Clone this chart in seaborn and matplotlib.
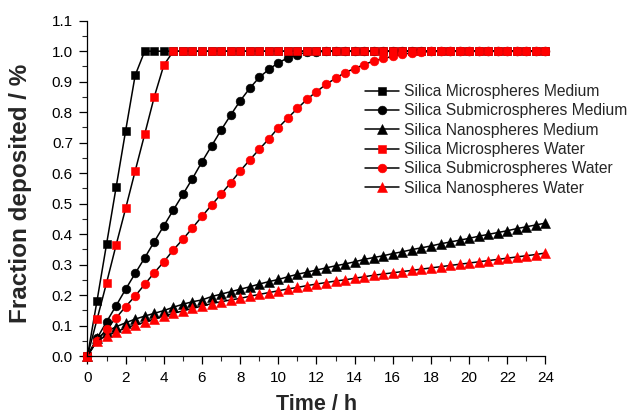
import matplotlib
matplotlib.use("Agg")
import matplotlib.pyplot as plt
import seaborn as sns
from matplotlib.ticker import MultipleLocator, FormatStrFormatter

sns.set_style("ticks")
plt.rcParams['font.family'] = ['Liberation Sans', 'DejaVu Sans']

time_h = [0, 0.5, 1, 1.5, 2, 2.5, 3, 3.5, 4, 4.5, 5, 5.5, 6, 6.5, 7, 7.5, 8, 8.5, 9, 9.5,
          10, 10.5, 11, 11.5, 12, 12.5, 13, 13.5, 14, 14.5, 15, 15.5, 16, 16.5, 17, 17.5,
          18, 18.5, 19, 19.5, 20, 20.5, 21, 21.5, 22, 22.5, 23, 23.5, 24]

micro_medium = [0, 0.181, 0.367, 0.553, 0.739, 0.921, 1.0, 1.0, 1.0, 1.0,
                1.0, 1.0, 1.0, 1.0, 1.0, 1.0, 1.0, 1.0, 1.0, 1.0,
                1.0, 1.0, 1.0, 1.0, 1.0, 1.0, 1.0, 1.0, 1.0, 1.0,
                1.0, 1.0, 1.0, 1.0, 1.0, 1.0, 1.0, 1.0, 1.0, 1.0,
                1.0, 1.0, 1.0, 1.0, 1.0, 1.0, 1.0, 1.0, 1.0]

submicro_medium = [0, 0.058, 0.112, 0.165, 0.219, 0.271, 0.322, 0.375, 0.427, 0.479,
                   0.53, 0.582, 0.637, 0.689, 0.741, 0.79, 0.837, 0.878, 0.914, 0.94,
                   0.962, 0.978, 0.989, 0.996, 0.998, 1.0, 1.0, 1.0, 1.0, 1.0,
                   1.0, 1.0, 1.0, 1.0, 1.0, 1.0, 1.0, 1.0, 1.0, 1.0,
                   1.0, 1.0, 1.0, 1.0, 1.0, 1.0, 1.0, 1.0, 1.0]

nano_medium = [0, 0.058, 0.08, 0.096, 0.109, 0.121, 0.131, 0.14, 0.149, 0.16,
               0.17, 0.178, 0.184, 0.195, 0.203, 0.211, 0.219, 0.227, 0.236, 0.244,
               0.251, 0.26, 0.268, 0.275, 0.282, 0.289, 0.296, 0.302, 0.309, 0.317,
               0.323, 0.329, 0.336, 0.342, 0.349, 0.355, 0.361, 0.368, 0.374, 0.38,
               0.386, 0.393, 0.399, 0.405, 0.411, 0.418, 0.424, 0.43, 0.436]

micro_water = [0, 0.12, 0.24, 0.364, 0.484, 0.607, 0.728, 0.85, 0.954, 1.0,
               1.0, 1.0, 1.0, 1.0, 1.0, 1.0, 1.0, 1.0, 1.0, 1.0,
               1.0, 1.0, 1.0, 1.0, 1.0, 1.0, 1.0, 1.0, 1.0, 1.0,
               1.0, 1.0, 1.0, 1.0, 1.0, 1.0, 1.0, 1.0, 1.0, 1.0,
               1.0, 1.0, 1.0, 1.0, 1.0, 1.0, 1.0, 1.0, 1.0]

submicro_water = [0, 0.05, 0.088, 0.125, 0.162, 0.197, 0.235, 0.273, 0.309, 0.348,
                  0.383, 0.42, 0.458, 0.495, 0.531, 0.568, 0.607, 0.643, 0.678, 0.712,
                  0.749, 0.781, 0.812, 0.842, 0.867, 0.891, 0.911, 0.93, 0.943, 0.956,
                  0.968, 0.976, 0.983, 0.99, 0.994, 0.997, 0.999, 1.0, 1.0, 1.0,
                  1.0, 1.0, 1.0, 1.0, 1.0, 1.0, 1.0, 1.0, 1.0]

nano_water = [0, 0.05, 0.066, 0.079, 0.092, 0.102, 0.111, 0.122, 0.131, 0.14,
              0.148, 0.156, 0.164, 0.172, 0.178, 0.184, 0.189, 0.196, 0.202, 0.208,
              0.214, 0.22, 0.225, 0.231, 0.236, 0.241, 0.246, 0.25, 0.255, 0.26,
              0.265, 0.269, 0.273, 0.277, 0.281, 0.285, 0.289, 0.293, 0.297, 0.301,
              0.305, 0.309, 0.313, 0.317, 0.321, 0.325, 0.329, 0.333, 0.338]

labels = ["Silica Microspheres Medium", "Silica Submicrospheres Medium",
          "Silica Nanospheres Medium", "Silica Microspheres Water",
          "Silica Submicrospheres Water", "Silica Nanospheres Water"]
series = [micro_medium, submicro_medium, nano_medium, micro_water, submicro_water, nano_water]
marker_styles = ["s", "o", "^", "s", "o", "^"]
marker_colors = ["black", "black", "black", "red", "red", "red"]
marker_sizes = [5.8, 6.3, 7.2, 5.8, 6.3, 7.2]

fig = plt.figure(figsize=(6.32, 4.18), dpi=100)
ax = fig.add_axes([0.1384, 0.1483, 0.7247, 0.8022])

for lab, vals, mk, col, ms in zip(labels, series, marker_styles, marker_colors, marker_sizes):
    sns.lineplot(x=time_h, y=vals, ax=ax, color="black", linewidth=1.1,
                 marker=mk, markersize=ms, markerfacecolor=col, markeredgecolor=col,
                 markeredgewidth=0.4, label=lab, clip_on=False)

ax.set_xlim(0, 24)
ax.set_ylim(0, 1.1)
ax.xaxis.set_major_locator(MultipleLocator(2))
ax.xaxis.set_minor_locator(MultipleLocator(1))
ax.yaxis.set_major_locator(MultipleLocator(0.1))
ax.yaxis.set_minor_locator(MultipleLocator(0.05))
ax.yaxis.set_major_formatter(FormatStrFormatter('%.1f'))
ax.tick_params(which="major", direction="out", length=6, width=0.9, labelsize=11,
               colors="black", pad=4.5)
ax.tick_params(which="minor", direction="out", length=3.5, width=0.8)
for s in ["top", "right"]:
    ax.spines[s].set_visible(False)
for s in ["left", "bottom"]:
    ax.spines[s].set_linewidth(0.9)
    ax.spines[s].set_color("black")

ax.set_xlabel("Time / h", fontsize=15.5, fontweight="bold", labelpad=7)
ax.set_ylabel("Fraction deposited / %", fontsize=17.5, fontweight="bold")
ax.yaxis.set_label_coords(-0.122, 0.485)

leg = ax.legend(loc="upper left", bbox_to_anchor=(365 / 632, 1 - 84 / 418),
                bbox_transform=fig.transFigure, frameon=False, fontsize=11.25,
                handlelength=2.2, handletextpad=0.3, labelspacing=0.28,
                borderpad=0, borderaxespad=0)

fig.savefig("out.png", dpi=100)
